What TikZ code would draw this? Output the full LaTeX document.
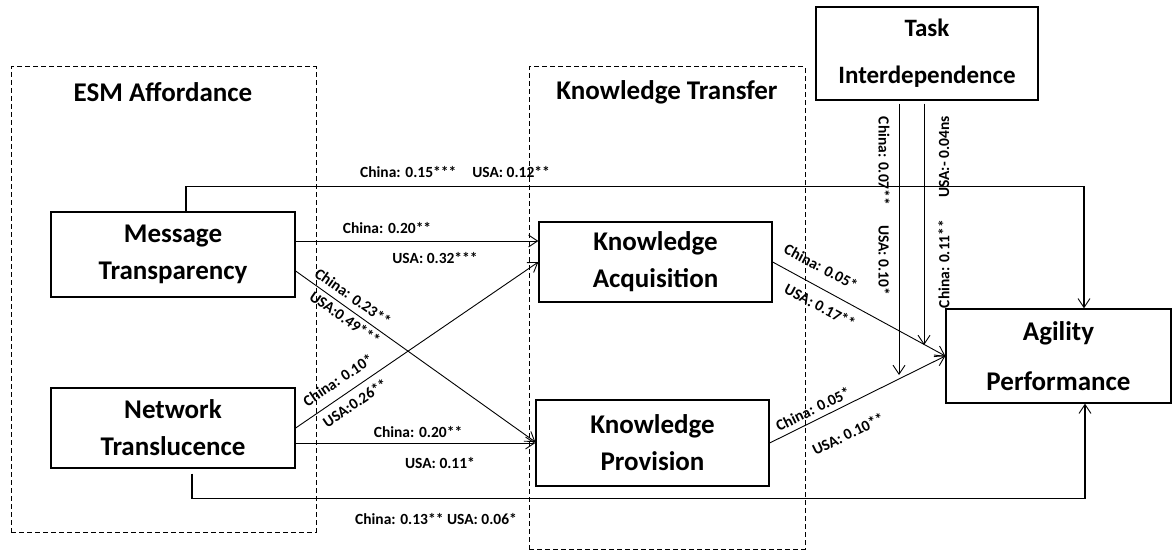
\documentclass[tikz,border=0pt]{standalone}
\usepackage{fontspec}
\setmainfont{Carlito}
\usetikzlibrary{arrows.meta}
\begin{document}
\begin{tikzpicture}[x=1pt,y=-1pt,
  box/.style={draw=black,line width=1.3pt,align=center,inner sep=0pt,font=\fontsize{27}{37}\selectfont\bfseries},
  grp/.style={draw=black,line width=1pt,dash pattern=on 5pt off 3pt,inner sep=0pt},
  conn/.style={line width=0.9pt,-{Straight Barb[length=9pt,width=12pt,line width=0.9pt]}},
  thickconn/.style={conn,line width=1.6pt},
  lbl/.style={inner sep=0pt,font=\fontsize{15.5}{18}\selectfont\bfseries},
  ttl/.style={inner sep=0pt,font=\fontsize{27}{32}\selectfont\bfseries}]
\useasboundingbox (0,0) rectangle (1173,551);
% group frames
\node[grp,minimum width=305pt,minimum height=465pt] (esm) at (163.5,299.5) {};
\node[grp,minimum width=276pt,minimum height=482pt] (kt) at (667,308) {};
\node[ttl] (esmt) at (163,92) {ESM Affordance};
\node[ttl] (ktt) at (667,92) {Knowledge Transfer};
% boxes
\node[box,minimum width=244pt,minimum height=85pt] (mt) at (173,254.5) {Message\\Transparency};
\node[box,minimum width=244pt,minimum height=80pt] (nt) at (173,428) {Network\\Translucence};
\node[box,minimum width=233pt,minimum height=80pt] (ka) at (655.5,262) {Knowledge\\Acquisition};
\node[box,minimum width=233pt,minimum height=86pt] (kp) at (652.5,443) {Knowledge\\Provision};
\node[box,minimum width=225pt,minimum height=94pt,font=\fontsize{27}{50}\selectfont\bfseries] (ap) at (1058.5,356) {Agility\\Performance};
\node[box,minimum width=222pt,minimum height=93pt,font=\fontsize{25}{47}\selectfont\bfseries] (ti) at (927,53.5) {Task\\Interdependence};
% connectors
\draw[conn] ([yshift=13.5pt]mt.east) -- ([yshift=21pt]ka.west);
\draw[conn] ([yshift=-16.5pt]mt.east) -- ([yshift=1pt]kp.west);
\draw[conn] (nt.east) -- (ka.west);
\draw[conn] ([yshift=-15pt]nt.east) -- (kp.west);
\draw[conn] (ka.east) -- (ap.west);
\draw[conn] (kp.east) -- (ap.west);
\draw[thickconn] ([xshift=13pt]mt.north) -- ++(0,-25) -| ([xshift=25.5pt]ap.north);
\draw[thickconn] ([xshift=19pt,yshift=-5pt]nt.south) -- ++(0,25) -| ([xshift=26.5pt]ap.south);
\coordinate (m1) at (899,375);
\coordinate (m2) at (924,345);
\draw[conn] ([xshift=-28pt,yshift=-3pt]ti.south) -- (m1);
\draw[conn] ([xshift=-3pt,yshift=-3pt]ti.south) -- (m2);
% labels
\node[lbl] (l1) at (455,172) {China: 0.15***\hspace{16pt}USA: 0.12**};
\node[lbl] (l2) at (387,228) {China: 0.20**};
\node[lbl] (l3) at (435,258) {USA: 0.32***};
\node[lbl,rotate=-35] (l4) at (353,297) {China: 0.23**};
\node[lbl,rotate=-35] (l5) at (345,318) {USA:0.49***};
\node[lbl,rotate=34] (l6) at (338,380) {China: 0.10*};
\node[lbl,rotate=34] (l7) at (355,403) {USA:0.26**};
\node[lbl] (l8) at (418,432) {China: 0.20**};
\node[lbl] (l9) at (440,463) {USA: 0.11*};
\node[lbl,rotate=-28] (l10) at (821,267) {China: 0.05*};
\node[lbl,rotate=-28] (l11) at (820,306) {USA: 0.17**};
\node[lbl,rotate=26] (l12) at (813,409) {China: 0.05*};
\node[lbl,rotate=26] (l13) at (848,434) {USA: 0.10**};
\node[lbl,rotate=-90] (l14) at (884,161) {China: 0.07**};
\node[lbl,rotate=-90] (l15) at (884,260) {USA: 0.10*};
\node[lbl,rotate=90] (l16) at (944,157) {USA:- 0.04ns};
\node[lbl,rotate=90] (l17) at (944,264) {China: 0.11**};
\node[lbl] (l18) at (436,519) {China: 0.13** USA: 0.06*};
\end{tikzpicture}
\end{document}
